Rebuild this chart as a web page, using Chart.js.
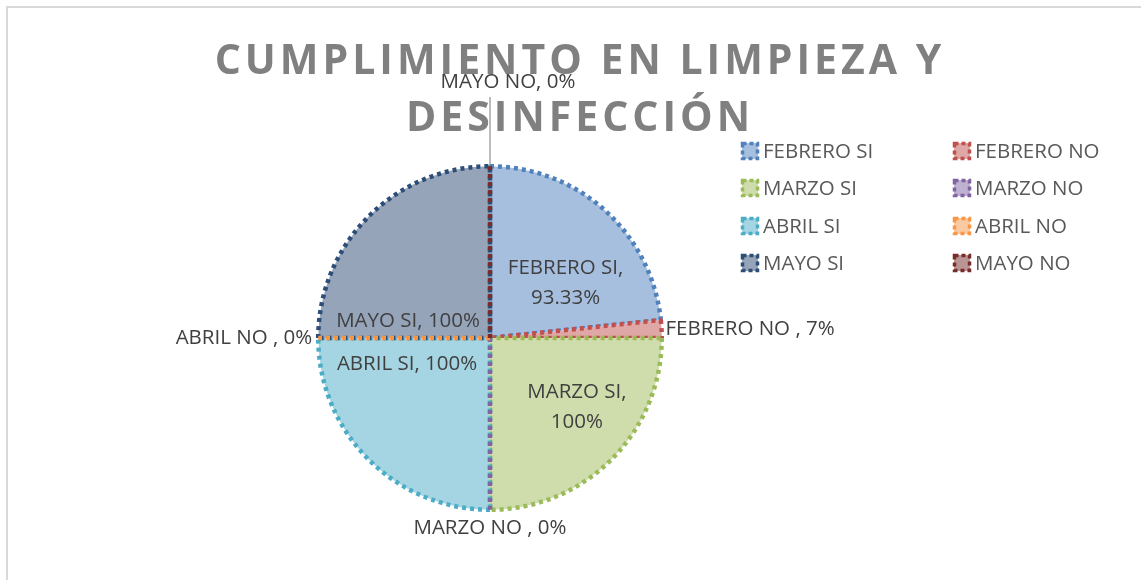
<!DOCTYPE html>
<html>
<head>
<meta charset="utf-8">
<script src="https://cdn.jsdelivr.net/npm/chart.js@4/dist/chart.umd.min.js"></script>
<style>
  html, body { margin: 0; padding: 0; background: #fff; overflow: hidden; }
  #marco { position: absolute; left: 0; top: 0; width: 1141px; height: 580px; }
</style>
</head>
<body>
<div id="marco"><canvas id="grafico__limpieza"></canvas></div>
<script>
// Datos
const categorias = ['FEBRERO SI', 'FEBRERO NO ', 'MARZO SI', 'MARZO NO ', 'ABRIL SI', 'ABRIL NO ', 'MAYO SI', 'MAYO NO'];
const valores = [93.33, 6.67, 100, 0, 100, 0, 100, 0];
const porcentajes = ['93.33%', '7%', '100%', '0%', '100%', '0%', '100%', '0%'];
const titulo = ['CUMPLIMIENTO EN LIMPIEZA Y', 'DESINFECCIÓN'];

// Estilos
const bordes = ['#4f81bd', '#c0504d', '#9bbb59', '#8064a2', '#4bacc6', '#f79646', '#2c4d75', '#772c2a'];
const rellenos = ['#a7bfde', '#dfa7a6', '#cfddac', '#bfb1d0', '#a5d5e2', '#fbcaa2', '#95a4b9', '#bb9594'];

// donde va cada etiqueta (dentro: fraccion del radio / fuera: px mas alla del borde, sobre el angulo medio)
const colocacion = [
  { dentro: true, dx: 0.44, dy: -0.32, partir: true },
  { dentro: false, d: 4, align: 'left' },
  { dentro: true, dx: 0.506, dy: 0.40, partir: true },
  { dentro: false, d: 18, align: 'center' },
  { dentro: true, dx: -0.483, dy: 0.15 },
  { dentro: false, d: 6, align: 'right' },
  { dentro: true, dx: -0.477, dy: -0.10 },
  { dentro: false, d: 84, align: 'center', guia: 241, corrimiento: 18 }
];

const FUENTE = '"Open Sans", sans-serif';

const pluginMarco = {
  id: 'marco',
  beforeDraw(chart) {
    const c = chart.ctx;
    c.save();
    c.fillStyle = '#fff';
    c.fillRect(0, 0, chart.width, chart.height);
    c.strokeStyle = '#d9d9d9';
    c.lineWidth = 2;
    c.strokeRect(7, 7, chart.width + 20, chart.height + 20);
    c.restore();
  }
};

const pluginTitulo = {
  id: 'tituloEspaciado',
  beforeDatasetsDraw(chart) {
    const c = chart.ctx;
    c.save();
    c.font = 'bold 41px ' + FUENTE;
    c.fillStyle = '#808080';
    c.textAlign = 'center';
    c.textBaseline = 'alphabetic';
    c.letterSpacing = '4px';
    c.fillText(titulo[0], 580, 74);
    c.fillText(titulo[1], 580, 131);
    c.restore();
  }
};

const pluginCeros = {
  id: 'rebanadasCero',
  afterDatasetsDraw(chart) {
    const c = chart.ctx;
    const arcos = chart.getDatasetMeta(0).data;
    c.save();
    arcos.forEach((arco, i) => {
      const p = arco.getProps(['x', 'y', 'startAngle', 'endAngle', 'outerRadius'], true);
      if (p.endAngle - p.startAngle > 0) return;
      c.strokeStyle = bordes[i];
      c.lineWidth = 4.5;
      c.setLineDash([4, 4]);
      c.beginPath();
      c.moveTo(p.x, p.y);
      c.lineTo(p.x + Math.cos(p.startAngle) * p.outerRadius, p.y + Math.sin(p.startAngle) * p.outerRadius);
      c.stroke();
    });
    c.restore();
  }
};

const pluginEtiquetas = {
  id: 'etiquetas',
  afterDraw(chart) {
    const c = chart.ctx;
    const arcos = chart.getDatasetMeta(0).data;
    c.save();
    c.font = '20.5px ' + FUENTE;
    c.fillStyle = '#404040';
    c.textBaseline = 'middle';
    arcos.forEach((arco, i) => {
      const p = arco.getProps(['x', 'y', 'startAngle', 'endAngle', 'outerRadius'], true);
      const pos = colocacion[i];
      const nombre = categorias[i];
      if (pos.dentro) {
        const x = p.x + pos.dx * p.outerRadius;
        const y = p.y + pos.dy * p.outerRadius;
        c.textAlign = 'center';
        if (pos.partir) {
          c.fillText(nombre + ',', x, y - 15);
          c.fillText(porcentajes[i], x, y + 15);
        } else {
          c.fillText(nombre + ', ' + porcentajes[i], x, y);
        }
      } else {
        const medio = (p.startAngle + p.endAngle) / 2;
        const r = p.outerRadius + pos.d;
        const x = p.x + Math.cos(medio) * r + (pos.corrimiento || 0);
        const y = p.y + Math.sin(medio) * r;
        if (pos.guia) {
          c.save();
          c.strokeStyle = '#a6a6a6';
          c.lineWidth = 1.5;
          c.beginPath();
          c.moveTo(p.x + Math.cos(medio) * (p.outerRadius + 2), p.y + Math.sin(medio) * (p.outerRadius + 2));
          c.lineTo(p.x + Math.cos(medio) * pos.guia, p.y + Math.sin(medio) * pos.guia);
          c.stroke();
          c.restore();
        }
        c.textAlign = pos.align;
        c.fillText(nombre + ', ' + porcentajes[i], x, y);
      }
    });
    c.restore();
  }
};

const pluginLeyenda = {
  id: 'leyendaDosColumnas',
  afterDraw(chart) {
    const c = chart.ctx;
    const columnas = [741, 953];
    const filas = [151, 188, 226, 263];
    c.save();
    c.font = '20.5px ' + FUENTE;
    c.textBaseline = 'middle';
    c.textAlign = 'left';
    categorias.forEach((nombre, i) => {
      const x = columnas[i % 2];
      const y = filas[Math.floor(i / 2)];
      c.fillStyle = rellenos[i];
      c.fillRect(x + 1, y - 8, 16, 16);
      c.strokeStyle = bordes[i];
      c.lineWidth = 3.5;
      c.setLineDash([4, 3]);
      c.strokeRect(x + 1.5, y - 7.5, 15, 15);
      c.setLineDash([]);
      c.fillStyle = '#595959';
      c.fillText(nombre.trim(), x + 22, y + 1);
    });
    c.restore();
  }
};

const grafico = document.getElementById('grafico__limpieza');

const config = {
  type: 'pie',
  data: {
    labels: categorias,
    datasets: [{
      data: valores,
      backgroundColor: rellenos,
      borderColor: bordes,
      borderWidth: 4.5,
      borderDash: [4, 4],
      borderAlign: 'center'
    }]
  },
  options: {
    responsive: true,
    maintainAspectRatio: false,
    animation: false,
    layout: {
      padding: { left: 316, right: 477, top: 164, bottom: 68 }
    },
    plugins: {
      legend: { display: false },
      title: { display: false },
      tooltip: { enabled: false }
    }
  },
  plugins: [pluginMarco, pluginTitulo, pluginCeros, pluginEtiquetas, pluginLeyenda]
};

const miGrafico = new Chart(grafico, config);
</script>
</body>
</html>
